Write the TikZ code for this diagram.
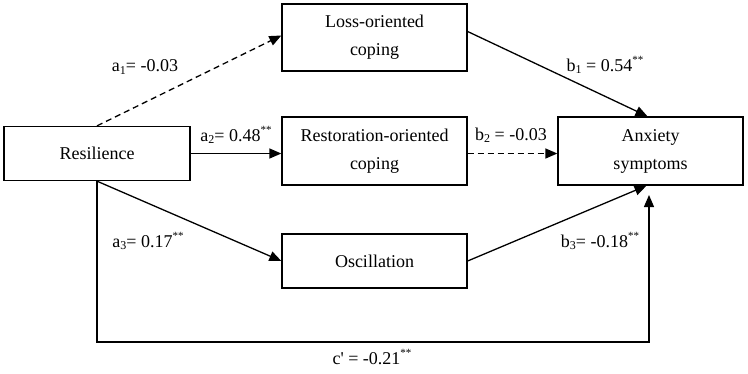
\documentclass[tikz,border=0pt]{standalone}
\usepackage{fontspec}
\setmainfont{Liberation Serif}
\usetikzlibrary{arrows.meta,calc}
\tikzset{
  box/.style={draw, line width=1.3pt, minimum width=185pt, align=center, inner sep=0pt,
    font=\fontsize{18}{28}\selectfont},
  conn/.style={line width=1.3pt, -{Triangle[length=12pt,width=10pt]}},
  dconn/.style={conn, dash pattern=on 6pt off 4pt},
  lab/.style={font=\fontsize{18}{22}\selectfont, inner sep=0pt},
}
\newcommand{\sbs}[1]{\raisebox{-0.25ex}{\fontsize{12}{12}\selectfont #1}}
\newcommand{\sps}[1]{\raisebox{0.9ex}{\fontsize{11}{11}\selectfont #1}}
\begin{document}
\begin{tikzpicture}[x=1pt,y=-1pt]
\useasboundingbox (0,0) rectangle (748,373);
\node[box, minimum width=186pt, minimum height=54pt] (res) at (97,153.5) {Resilience};
\node[box, minimum height=67pt] (loss) at (374.5,37.5) {Loss-oriented\\coping};
\node[box, minimum height=68pt] (rest) at (374.5,151) {Restoration-oriented\\coping};
\node[box, minimum height=54pt] (osc) at (374.5,261) {Oscillation};
\node[box, minimum height=68pt] (anx) at (650.5,151) {Anxiety\\symptoms};
\coordinate (cc) at (649,342);
\coordinate (ct) at (649,195);
\draw[dconn] (res.north) -- ($(loss.west)+(0,-2)$);
\draw[conn] (res.east) -- (res.east -| rest.west);
\draw[dconn] (res.east -| rest.east) -- (res.east -| anx.west);
\draw[conn] ($(loss.east)+(0,-6)$) -- ($(anx.north)+(-3,0)$);
\draw[conn] (res.south) -- (osc.west);
\draw[conn] (osc.east) -- ($(anx.south)+(-4,0)$);
\draw[conn] (res.south) |- (cc) -- (ct);
\node[lab] (la1) at (145,67) {a\sbs{1}= -0.03};
\node[lab] (la2) at (236,135) {a\sbs{2}= 0.48\sps{**}};
\node[lab] (la3) at (148,241) {a\sbs{3}= 0.17\sps{**}};
\node[lab] (lb1) at (605,65) {b\sbs{1} = 0.54\sps{**}};
\node[lab] (lb2) at (511,135) {b\sbs{2} = -0.03};
\node[lab] (lb3) at (600,241) {b\sbs{3}= -0.18\sps{**}};
\node[lab] (lc) at (372,357) {c\textquotesingle{} = -0.21\sps{**}};
\end{tikzpicture}
\end{document}
